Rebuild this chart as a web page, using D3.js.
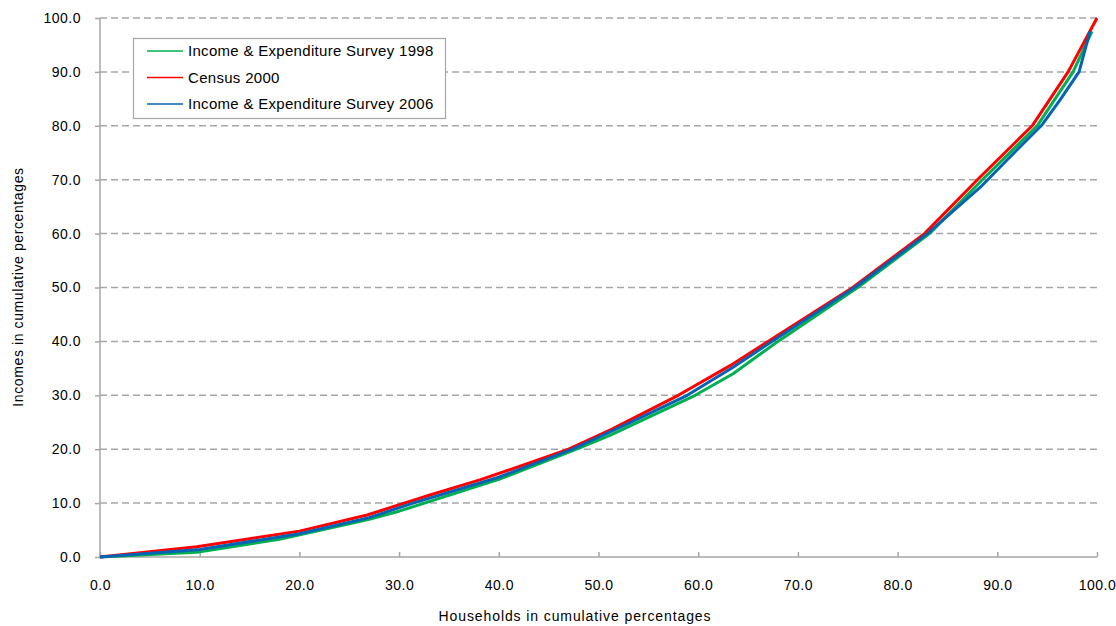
<!DOCTYPE html>
<html>
<head>
<meta charset="utf-8">
<script src="https://cdn.jsdelivr.net/npm/d3@7"></script>
<style>
  body { margin: 0; background: #fff; }
  text { font-family: "Liberation Sans", Arial, sans-serif; fill: #000; }
</style>
</head>
<body>
<svg id="chart" width="1116" height="626"></svg>
<script>
// cumulative shares
var households1998 = [0, 9.7, 18, 26.8, 30, 40, 47.8, 51.2, 59.7, 63.5, 68, 76, 83.2, 88.5, 94, 97.6, 99.5];
var incomes1998    = [0, 0.9, 3.3, 6.9, 8.5, 14.4, 20, 22.6, 30, 34.0, 40, 50, 60, 70, 80, 90, 97.5];

var householdsCensus = [0, 9.7, 20, 26.8, 33.1, 38.1, 43, 47, 51.2, 58, 63.2, 67, 75.5, 82.7, 88, 93.5, 97.1, 100];
var incomesCensus    = [0, 1.9, 4.8, 7.8, 11.5, 14.3, 17.4, 20, 23.6, 30, 35.5, 40, 50, 60, 70, 80, 90, 100];

var households2006 = [0, 10, 20, 27, 31.4, 40, 47.4, 53, 58.9, 63.5, 67.4, 75.7, 83, 88.3, 91, 94.5, 96.3, 98.2, 99.3];
var incomes2006    = [0, 1.4, 4.3, 7.3, 10, 14.8, 20, 24.8, 30, 35.2, 40, 50, 60, 68.6, 73.7, 80.2, 84.8, 90, 97.5];

var seriesNames = ["Income & Expenditure Survey 1998", "Census 2000", "Income & Expenditure Survey 2006"];
var tickValues = [0, 10, 20, 30, 40, 50, 60, 70, 80, 90, 100];

var colors = ["#00b050", "#ff0000", "#0563b4"];

var series = [
	d3.zip(households1998, incomes1998),
	d3.zip(householdsCensus, incomesCensus),
	d3.zip(households2006, incomes2006)
];

var svg = d3.select("#chart");
var plotLeft = 100, plotRight = 1097, plotTop = 18, plotBottom = 557;

var x = d3.scaleLinear().domain([0, 100]).range([plotLeft, plotRight]);
var y = d3.scaleLinear().domain([0, 100]).range([plotBottom, plotTop]);

var axisColor = "#a6a6a6";

// gridlines
svg.append("g")
	.selectAll("line")
	.data(tickValues.slice(1))
	.enter()
	.append("line")
	.attr("x1", plotLeft)
	.attr("x2", plotRight)
	.attr("y1", function(d){ return y(d); })
	.attr("y2", function(d){ return y(d); })
	.attr("stroke", axisColor)
	.attr("stroke-width", 1.5)
	.attr("stroke-dasharray", "7,4");

// y axis
var yAxis = svg.append("g")
	.attr("transform", "translate(" + plotLeft + ",0)")
	.call(d3.axisLeft(y).tickValues(tickValues).tickSize(5).tickPadding(14).tickFormat(d3.format(".1f")));

// x axis, ticks pointing inward
var xAxis = svg.append("g")
	.attr("transform", "translate(0," + plotBottom + ")")
	.call(d3.axisBottom(x).tickValues(tickValues).tickSize(-5).tickPadding(23).tickFormat(d3.format(".1f")));

[xAxis, yAxis].forEach(function(g){
	g.select(".domain").attr("stroke", axisColor).attr("stroke-width", 1.5);
	g.selectAll(".tick line").attr("stroke", axisColor).attr("stroke-width", 1.5);
	g.selectAll(".tick text")
		.attr("fill", "#000")
		.style("font-size", "14px")
		.style("letter-spacing", "0.5px")
		.style("font-family", "'Liberation Sans', Arial, sans-serif");
});
yAxis.select(".domain").attr("d", "M0," + plotBottom + "V" + plotTop);
xAxis.select(".domain").attr("d", "M" + plotLeft + ",0H" + plotRight);

// curves
var line = d3.line()
	.x(function(d){ return x(d[0]); })
	.y(function(d){ return y(d[1]); });

svg.append("g")
	.selectAll("path")
	.data(series)
	.enter()
	.append("path")
	.attr("d", line)
	.attr("fill", "none")
	.attr("stroke", function(d, i){ return colors[i]; })
	.attr("stroke-width", 3)
	.attr("stroke-linejoin", "round");

// axis titles
svg.append("text")
	.attr("x", 575)
	.attr("y", 621)
	.attr("text-anchor", "middle")
	.style("font-size", "14px")
	.style("letter-spacing", "0.9px")
	.text("Households in cumulative percentages");

svg.append("text")
	.attr("transform", "translate(23,287) rotate(-90)")
	.attr("text-anchor", "middle")
	.style("font-size", "14px")
	.style("letter-spacing", "0.6px")
	.text("Incomes in cumulative percentages");

// legend
var legend = svg.append("g");
legend.append("rect")
	.attr("x", 133.5)
	.attr("y", 38.5)
	.attr("width", 312)
	.attr("height", 80)
	.attr("fill", "#fff")
	.attr("stroke", axisColor)
	.attr("stroke-width", 1.2);

var item = legend.selectAll("g.item")
	.data(seriesNames)
	.enter()
	.append("g")
	.attr("class", "item")
	.attr("transform", function(d, i){ return "translate(0," + (51 + i * 26.5) + ")"; });

item.append("line")
	.attr("x1", 147)
	.attr("x2", 183)
	.attr("stroke", function(d, i){ return colors[i]; })
	.attr("stroke-width", 1.5);

item.append("text")
	.attr("x", 188)
	.attr("dy", "0.35em")
	.style("font-size", "15px")
	.style("letter-spacing", "0.3px")
	.text(function(d){ return d; });
</script>
</body>
</html>
